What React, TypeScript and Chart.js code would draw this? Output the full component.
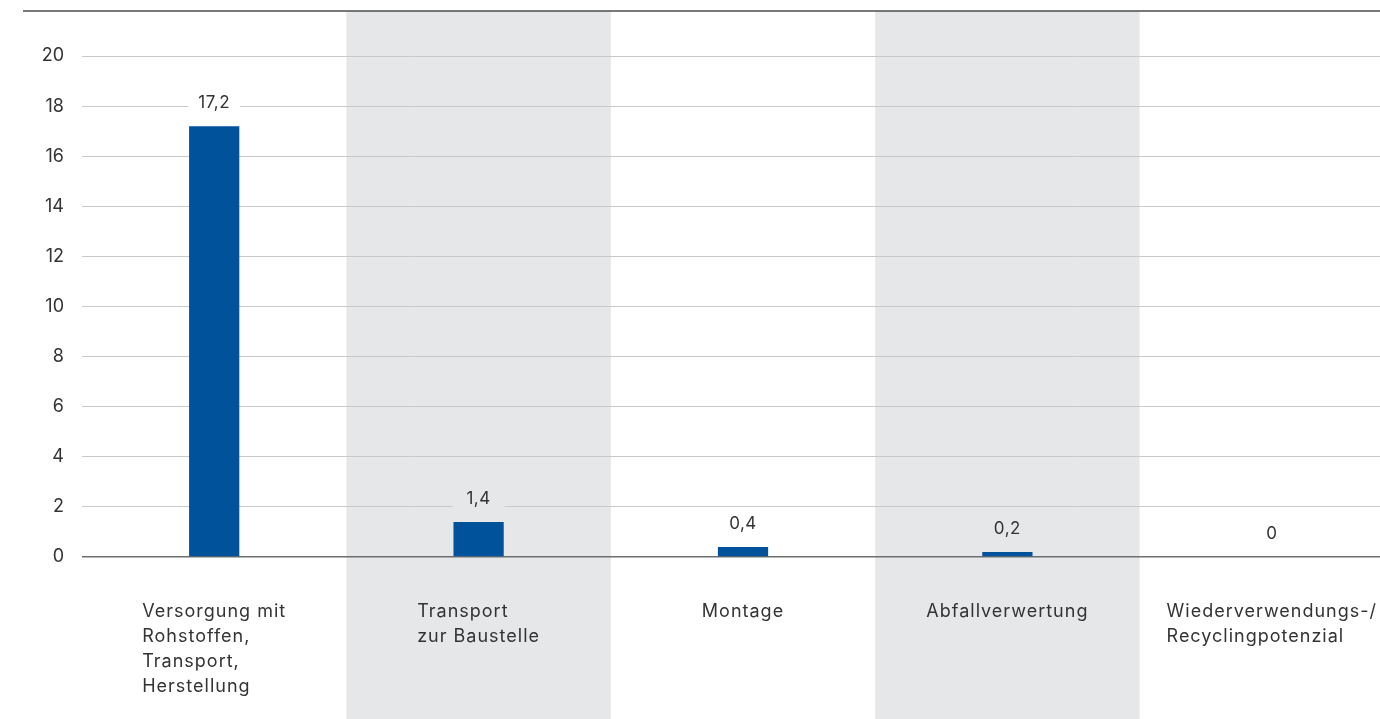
import React, { useEffect, useRef } from 'react';
import { Chart, registerables } from 'chart.js';

Chart.register(...registerables);

const categories: string[][] = [
  ['Versorgung mit', 'Rohstoffen,', 'Transport,', 'Herstellung'],
  ['Transport', 'zur Baustelle'],
  ['Montage'],
  ['Abfallverwertung'],
  ['Wiederverwendungs-/', 'Recyclingpotenzial'],
];
const values = [17.2, 1.4, 0.4, 0.2, 0];
const valueLabels = ['17,2', '1,4', '0,4', '0,2', '0'];
const yMin = 0;
const yMax = 20;
const yStep = 2;

const FONT = 'Inter, "Noto Sans", sans-serif';
const TEXT = '#333333';
const BAND = '#e6e7e9';
const BAR = '#00529b';

const bandsPlugin = {
  id: 'bands',
  beforeDraw(chart: any) {
    const { ctx } = chart;
    const x = chart.scales.x;
    const half = x.width / categories.length / 2;
    ctx.save();
    ctx.fillStyle = BAND;
    categories.forEach((_, i) => {
      if (i % 2 === 1) {
        const cx = x.getPixelForValue(i);
        ctx.fillRect(cx - half, 11, half * 2, chart.height - 11);
      }
    });
    ctx.strokeStyle = '#4d4d4d';
    ctx.lineWidth = 1.5;
    ctx.beginPath();
    ctx.moveTo(23, 11);
    ctx.lineTo(chart.width, 11);
    ctx.stroke();
    ctx.restore();
  },
  afterDatasetsDraw(chart: any) {
    const { ctx } = chart;
    const meta = chart.getDatasetMeta(0);
    ctx.save();
    ctx.font = `17px ${FONT}`;
    (ctx as any).letterSpacing = '0.5px';
    ctx.textAlign = 'center';
    ctx.textBaseline = 'middle';
    meta.data.forEach((el: any, i: number) => {
      const y = el.y - 23;
      ctx.fillStyle = i % 2 === 1 ? BAND : '#ffffff';
      ctx.fillRect(el.x - 26, y - 13, 52, 26);
      ctx.fillStyle = TEXT;
      ctx.fillText(valueLabels[i], el.x, y);
    });
    ctx.restore();
  },
  afterDraw(chart: any) {
    const { ctx } = chart;
    const x = chart.scales.x;
    const top = chart.chartArea.bottom + 55;
    ctx.save();
    ctx.font = `18px ${FONT}`;
    (ctx as any).letterSpacing = '1px';
    ctx.textAlign = 'left';
    ctx.textBaseline = 'middle';
    ctx.fillStyle = TEXT;
    categories.forEach((lines, i) => {
      const cx = x.getPixelForValue(i);
      const w = Math.max(...lines.map((l) => ctx.measureText(l).width));
      lines.forEach((l, j) => {
        ctx.fillText(l, cx - w / 2, top + j * 25);
      });
    });
    ctx.restore();
  },
};

export default function App() {
  const ref = useRef<HTMLCanvasElement>(null);
  useEffect(() => {
    if (!ref.current) return;
    const chart = new Chart(ref.current, {
      type: 'bar',
      data: {
        labels: categories.map((c) => c.join(' ')),
        datasets: [
          {
            data: values,
            backgroundColor: BAR,
            borderWidth: 0,
            categoryPercentage: 1,
            barPercentage: 0.19,
          },
        ],
      },
      options: {
        animation: false,
        responsive: false,
        maintainAspectRatio: false,
        layout: { padding: { top: 56, right: 6, bottom: 162, left: 0 } },
        plugins: { legend: { display: false }, tooltip: { enabled: false } },
        scales: {
          x: {
            grid: { display: false, drawTicks: false },
            border: { display: false },
            ticks: { display: false },
          },
          y: {
            min: yMin,
            max: yMax,
            ticks: {
              stepSize: yStep,
              color: TEXT,
              font: { family: FONT, size: 18 },
              padding: 18,
            },
            grid: {
              drawTicks: false,
              color: (c: any) => (c.tick && c.tick.value === 0 ? '#6e6e6e' : '#c9c9c9'),
              lineWidth: (c: any) => (c.tick && c.tick.value === 0 ? 1.5 : 1),
            },
            border: { display: false },
            afterFit: (s: any) => {
              s.width = 82;
            },
          },
        },
      },
      plugins: [bandsPlugin],
    });
    return () => chart.destroy();
  }, []);
  return (
    <div
      style={{
        position: 'fixed',
        left: 0,
        top: 0,
        width: 1380,
        height: 719,
        overflow: 'hidden',
        background: '#ffffff',
      }}
    >
      <canvas ref={ref} width={1410} height={719} style={{ display: 'block', width: 1410, height: 719 }} />
    </div>
  );
}
